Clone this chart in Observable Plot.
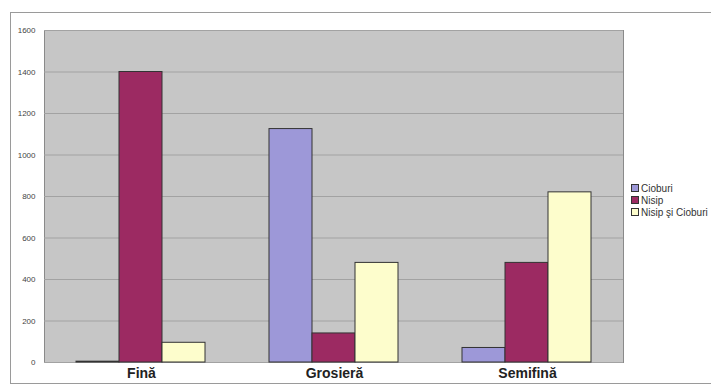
<!DOCTYPE html>
<html>
<head>
<meta charset="utf-8">
<script src="https://cdn.jsdelivr.net/npm/d3@7"></script>
<script src="https://cdn.jsdelivr.net/npm/@observablehq/plot@0.6"></script>
<style>
  html, body { margin: 0; padding: 0; background: #fff; }
  #wrap { position: relative; width: 711px; height: 385px; overflow: hidden; }
  #bg, #bars { position: absolute; left: 0; top: 0; }
  #border { position: absolute; left: 10px; top: 12px; width: 710px; height: 372px; border: 1px solid #9a9a9a; box-sizing: border-box; pointer-events: none; }
  #legend { position: absolute; left: 631px; top: 182px; font: 10px Arial, "Liberation Sans", sans-serif; color: #333; white-space: nowrap; }
  #legend .row { height: 12px; display: flex; align-items: center; }
  #legend .sw { width: 6px; height: 6px; border: 1px solid #333; margin-right: 2px; }
</style>
</head>
<body>
<div id="wrap">
  <div id="bg"></div>
  <div id="bars"></div>
  <div id="border"></div>
  <div id="legend"></div>
</div>
<script>
const categories = ["Fină", "Grosieră", "Semifină"];
const series = ["Cioburi", "Nisip", "Nisip şi Cioburi"];
const cioburi = [4, 1125, 70];
const nisip = [1400, 140, 480];
const nisipCioburi = [95, 480, 820];
const yTicks = [0, 200, 400, 600, 800, 1000, 1200, 1400, 1600];
const colors = ["#9d98d8", "#9c2a62", "#fdfdcc"];

const values = [cioburi, nisip, nisipCioburi];
const data = [];
categories.forEach((c, i) => series.forEach((s, j) => data.push({category: c, series: s, value: values[j][i]})));

const common = {
  width: 711,
  height: 385,
  marginLeft: 44,
  marginRight: 88,
  marginTop: 30,
  marginBottom: 23,
  style: {background: "transparent", fontFamily: "Arial, 'Liberation Sans', sans-serif"},
  y: {domain: [0, 1600], ticks: yTicks, label: null}
};

// background: plot area, gridlines, axes
const bg = Plot.plot({
  ...common,
  x: {domain: categories, paddingInner: 0.33, paddingOuter: 0.165, label: null},
  marks: [
    Plot.frame({fill: "#c6c6c6", stroke: "#8a8a8a"}),
    Plot.gridY(yTicks, {stroke: "#a2a2a2", strokeOpacity: 1}),
    Plot.axisY(yTicks, {tickSize: 0, tickPadding: 9, fontSize: 8, fill: "#444", tickFormat: d => String(d)}),
    Plot.axisX({tickSize: 0, tickPadding: 6, fontSize: 14, fontWeight: "bold", fill: "#222", label: null})
  ]
});
document.getElementById("bg").appendChild(bg);

// bars: grouped via facets
const bars = Plot.plot({
  ...common,
  fx: {domain: categories, paddingInner: 0.33, paddingOuter: 0.165, label: null, axis: null},
  x: {domain: series, padding: 0, axis: null},
  color: {domain: series, range: colors},
  marks: [
    Plot.axisY({ticks: [], tickSize: 0, label: null}),
    Plot.barY(data, {fx: "category", x: "series", y: "value", fill: "series", stroke: "#333", strokeWidth: 1})
  ]
});
document.getElementById("bars").appendChild(bars);

const legend = document.getElementById("legend");
series.forEach((s, j) => {
  const row = document.createElement("div");
  row.className = "row";
  const sw = document.createElement("span");
  sw.className = "sw";
  sw.style.background = colors[j];
  row.appendChild(sw);
  row.appendChild(document.createTextNode(s));
  legend.appendChild(row);
});
</script>
</body>
</html>
